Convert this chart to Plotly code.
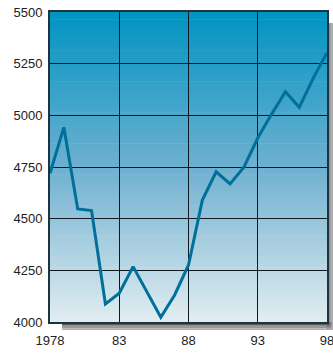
import plotly.graph_objects as go

# Annual index values, 1978-1998
years = list(range(1978, 1999))
values = [4720, 4942, 4547, 4539, 4087, 4139, 4268, 4145, 4023, 4131, 4276,
          4590, 4727, 4668, 4749, 4890, 5006, 5114, 5039, 5179, 5303]

x_tickvals = [1978, 1983, 1988, 1993, 1998]
x_ticktext = ["1978", "83", "88", "93", "98"]
y_tickvals = [4000, 4250, 4500, 4750, 5000, 5250, 5500]
y_ticktext = ["4000", "4250", "4500", "4750", "5000", "5250", "5500"]


def lerp(c1, c2, t):
    return tuple(round(a + (b - a) * t) for a, b in zip(c1, c2))


def rgb(c):
    return "rgb(%d,%d,%d)" % c


# Vertical background gradient (top -> middle -> bottom)
top_c = (0, 148, 194)
mid_c = (110, 176, 208)
bot_c = (226, 237, 241)

shapes = []
n = 80
for i in range(n):
    f = (i + 0.5) / n  # 0 at bottom, 1 at top
    if f >= 0.5:
        c = lerp(mid_c, top_c, (f - 0.5) / 0.5)
    else:
        c = lerp(bot_c, mid_c, f / 0.5)
    shapes.append(dict(type="rect", xref="paper", yref="paper",
                       x0=0, x1=1, y0=i / n, y1=(i + 1) / n + 0.002,
                       fillcolor=rgb(c), line=dict(width=0), layer="below"))

# Drop shadow along the right and bottom edges
pw, ph = 277.0, 310.0
sx, sy = 6 / pw, 8 / ph
shadow_steps = [(60, 60, 60), (90, 90, 90), (120, 120, 120), (150, 150, 150), (175, 175, 175)]
k = len(shadow_steps)
for j, c in enumerate(shadow_steps):
    # bottom strip
    shapes.append(dict(type="rect", xref="paper", yref="paper",
                       x0=12 / pw, x1=1 + sx,
                       y0=-sy * (j + 1) / k, y1=-sy * j / k,
                       fillcolor=rgb(c), line=dict(width=0), layer="below"))
    # right strip
    shapes.append(dict(type="rect", xref="paper", yref="paper",
                       x0=1 + sx * j / k, x1=1 + sx * (j + 1) / k,
                       y0=-sy, y1=1 - 11 / ph,
                       fillcolor=rgb(c), line=dict(width=0), layer="below"))

fig = go.Figure()
fig.add_trace(go.Scatter(
    x=years, y=values, mode="lines",
    line=dict(color="#00709a", width=3),
    hoverinfo="x+y", showlegend=False, cliponaxis=False,
))

axis_font = dict(family="Liberation Sans, Arial, sans-serif", size=13, color="#222222")

fig.update_layout(
    width=333, height=355,
    margin=dict(l=50, r=6, t=12, b=33, autoexpand=False),
    paper_bgcolor="white",
    plot_bgcolor="rgba(0,0,0,0)",
    shapes=shapes,
    xaxis=dict(
        range=[1978, 1998], tickvals=x_tickvals, ticktext=x_ticktext,
        showgrid=True, gridcolor="#101820", gridwidth=1,
        showline=True, linecolor="#1c3440", linewidth=2, mirror=True,
        ticks="", tickfont=axis_font, zeroline=False, fixedrange=True,
        automargin=False, ticklabelstandoff=5, ticklabeloverflow="allow",
    ),
    yaxis=dict(
        range=[4000, 5500], tickvals=y_tickvals, ticktext=y_ticktext,
        showgrid=True, gridcolor="#101820", gridwidth=1,
        showline=True, linecolor="#1c3440", linewidth=2, mirror=True,
        ticks="", tickfont=axis_font, zeroline=False, fixedrange=True,
        automargin=False, ticklabelstandoff=3, ticklabeloverflow="allow",
    ),
)

fig.write_html("out.html")
